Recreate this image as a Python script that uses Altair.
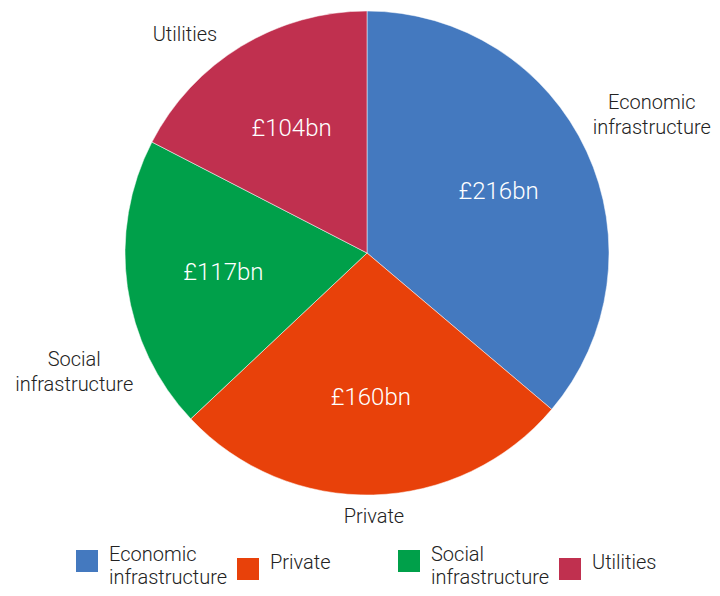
import altair as alt
import pandas as pd

# ---- data ----
categories = ["Economic infrastructure", "Private", "Social infrastructure", "Utilities"]
values = [216, 160, 117, 104]
value_labels = ["£216bn", "£160bn", "£117bn", "£104bn"]
colors = ["#4479BF", "#E8410A", "#00A04A", "#C0304F"]

df = pd.DataFrame({"category": categories, "value": values, "vlabel": value_labels})

# ---- layout / style ----
FONT = "Roboto"
TXT = "#222222"
W, H = 704, 580
CX, CY = 359, 245
R = 242
RP = 251          # clearance radius for outside labels
CHAR_W = 4.3      # half average char width at 20px
LINE_H = 25

base = alt.Chart(df).transform_joinaggregate(
    total="sum(value)"
).transform_window(
    cum="sum(value)", sort=[alt.SortField("category")], frame=[None, 0]
).transform_calculate(
    mid="2*PI*(datum.cum - datum.value/2)/datum.total",
    lines="split(datum.category, ' ')",
    nlines="length(split(datum.category, ' '))",
)

color = alt.Color(
    "category:N",
    scale=alt.Scale(domain=categories, range=colors),
    legend=alt.Legend(
        title=None,
        orient="none",
        legendX=68,
        legendY=542,
        padding=0,
        direction="horizontal",
        columns=4,
        gridAlign="all",
        symbolType="square",
        symbolSize=484,
        symbolStrokeWidth=0,
        labelFont=FONT,
        labelFontWeight=300,
        labelFontSize=20,
        labelColor=TXT,
        labelOffset=11,
        labelBaseline="alphabetic",
        labelLimit=300,
        columnPadding=9,
        labelExpr="split(datum.label, ' ')",
    ),
)

arcs = base.mark_arc(outerRadius=R, stroke="#ffffff", strokeWidth=0.5).encode(
    theta=alt.Theta("value:Q", stack=True),
    color=color,
    order=alt.Order("category:N"),
    x=alt.value(CX),
    y=alt.value(CY),
)

inner = base.mark_text(
    font=FONT, fontWeight=300, fontSize=24, color="#ffffff", baseline="middle", align="center"
).encode(
    theta=alt.Theta("mid:Q", scale=None),
    radius=alt.value(145),
    x=alt.value(CX),
    y=alt.value(CY),
    text="vlabel:N",
)

outer = base.transform_calculate(
    maxlen="datum.nlines > 1 ? 14 : length(datum.category)",
).transform_calculate(
    hw=f"datum.maxlen * {CHAR_W}",
    hh=f"datum.nlines * {LINE_H/2}",
).transform_calculate(
    lr=f"{RP} + datum.hw*abs(sin(datum.mid)) + datum.hh*abs(cos(datum.mid))",
).transform_calculate(
    x0="datum.lr*sin(datum.mid)",
    y0="-datum.lr*cos(datum.mid)",
).transform_calculate(
    xc=f"clamp(datum.x0, -{CX} + datum.hw + 6, {W - CX} - datum.hw)",
    yc=f"clamp(datum.y0, -{CY} + datum.hh + 14, {H - CY} - datum.hh)",
).transform_calculate(
    yf=(
        f"datum.xc != datum.x0 ? (datum.y0 < 0 ? -1 : 1) * (max(abs(datum.yc) - datum.hh, "
        f"sqrt(max({RP}*{RP} - pow(abs(datum.xc) - datum.hw, 2), 0))) + datum.hh) : datum.yc"
    ),
    xf=(
        f"datum.yc != datum.y0 ? (datum.x0 < 0 ? -1 : 1) * (max(abs(datum.xc) - datum.hw, "
        f"sqrt(max({RP}*{RP} - pow(abs(datum.yc) - datum.hh, 2), 0))) + datum.hw) : datum.xc"
    ),
).transform_calculate(
    lx=f"{CX} + datum.xf",
    ly=f"{CY} + datum.yf - (datum.nlines - 1) * {LINE_H/2}",
).mark_text(
    font=FONT, fontWeight=300, fontSize=20, color=TXT, baseline="middle", align="center",
    lineHeight=LINE_H,
).encode(
    x=alt.X("lx:Q", scale=None, axis=None),
    y=alt.Y("ly:Q", scale=None, axis=None),
    text="lines:N",
)

chart = alt.layer(arcs, inner, outer).properties(
    width=W, height=H, padding=0,
    autosize=alt.AutoSizeParams(type="none"),
).configure(
    style={"guide-label": {"lineHeight": 23}},
    view=alt.ViewConfig(stroke=None),
)

chart.save("out.html", embed_options={"renderer": "svg", "actions": False})
